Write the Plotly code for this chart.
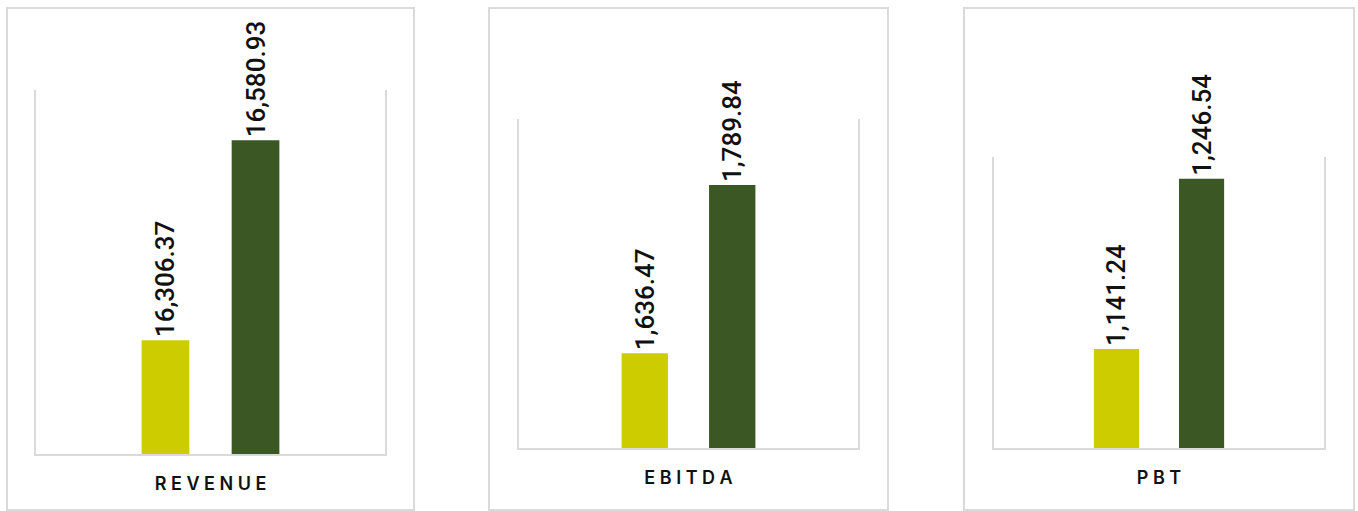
import plotly.graph_objects as go

W, H = 1358, 511

metrics = ["REVENUE", "EBITDA", "PBT"]
prev_values = [16306.37, 1636.47, 1141.24]
curr_values = [16580.93, 1789.84, 1246.54]
axis_min = [16150, 1550, 1080]
axis_max = [16650, 1850, 1260]

YELLOW = "#CCCC00"
GREEN = "#3B5724"
GRID = "#DADADA"
FONT_NUM = "Roboto, Arial, sans-serif"
FONT_CAT = "Inter, Roboto, Arial, sans-serif"

# pixel layout for each panel: (axis x0, x1, axis top y, baseline y, box x0, x1)
panels_px = [
    (36, 385, 90, 454, 7, 414),
    (519, 858, 119, 448, 489, 888),
    (994, 1324, 157, 448, 964, 1354),
]

def px(x):
    return x / W

def py(y):
    return (H - y) / H

fig = go.Figure()
layout_axes = {}
shapes = []
for i, name in enumerate(metrics):
    n = "" if i == 0 else str(i + 1)
    xa, ya = "x" + n, "y" + n
    ax0, ax1, top, base, bx0, bx1 = panels_px[i]
    for val, col in ((prev_values[i], YELLOW), (curr_values[i], GREEN)):
        fig.add_trace(go.Bar(
            x=[name], y=[val], xaxis=xa, yaxis=ya,
            marker=dict(color=col, line=dict(width=0)),
            text=[f"{val:,.2f}"], textposition="outside", textangle=-90,
            textfont=dict(family=FONT_NUM, size=26, color="#111111", weight=500),
            constraintext="none", cliponaxis=False, showlegend=False,
            hoverinfo="skip",
        ))
    layout_axes["xaxis" + n] = dict(
        domain=[px(ax0), px(ax1)], anchor=ya,
        showline=True, linecolor=GRID, linewidth=2, mirror=False,
        showgrid=False, zeroline=False, ticks="",
        tickvals=[name], ticktext=[" ".join(name)],
        tickfont=dict(family=FONT_CAT, size=18, color="#111111", weight=600),
        ticklabelstandoff=12, fixedrange=True,
    )
    layout_axes["yaxis" + n] = dict(
        domain=[py(base), py(top)], anchor=xa,
        range=[axis_min[i], axis_max[i]],
        showline=True, linecolor=GRID, linewidth=2, mirror=True,
        showgrid=False, zeroline=False, showticklabels=False, ticks="",
        fixedrange=True,
    )
    shapes.append(dict(
        type="rect", xref="paper", yref="paper",
        x0=px(bx0), x1=px(bx1), y0=py(510), y1=py(8),
        line=dict(color=GRID, width=2), fillcolor="rgba(0,0,0,0)", layer="below",
    ))

fig.update_layout(
    width=W, height=H,
    margin=dict(l=0, r=0, t=0, b=0),
    paper_bgcolor="white", plot_bgcolor="white",
    barmode="group", bargap=0.484, bargroupgap=0.47,
    shapes=shapes,
    **layout_axes,
)

fig.write_html("out.html", config={"displayModeBar": False})
